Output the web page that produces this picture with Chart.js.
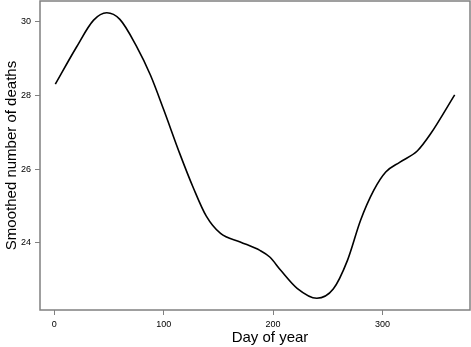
<!DOCTYPE html>
<html>
<head>
<meta charset="utf-8">
<script src="https://cdn.jsdelivr.net/npm/chart.js@4"></script>
<style>
  body { margin: 0; background: #fff; }
  #wrap { width: 471px; height: 347px; }
</style>
</head>
<body>
<div id="wrap"><canvas id="grafico" width="471" height="347"></canvas></div>
<script>
// dados
const dias = [1, 20, 36, 48, 60, 75, 88, 100, 115, 127, 139, 152, 170, 188, 197, 207, 222, 240, 255, 268, 280, 292, 303, 316, 332, 344, 366];
const mortes = [28.31, 29.30, 30.05, 30.25, 30.07, 29.35, 28.55, 27.62, 26.40, 25.50, 24.72, 24.25, 24.02, 23.79, 23.61, 23.25, 22.76, 22.49, 22.74, 23.52, 24.61, 25.42, 25.92, 26.19, 26.50, 26.96, 28.02];
const ticksX = [0, 100, 200, 300];
const ticksY = [24, 26, 28, 30];
const tituloX = 'Day of year';

// moldura em volta da área do gráfico + título do eixo x (um pouco deslocado, como no original)
const moldura = {
    id: 'moldura',
    afterDraw(chart) {
        const { ctx, chartArea: a } = chart;
        ctx.save();
        ctx.strokeStyle = '#808080';
        ctx.lineWidth = 1.5;
        ctx.strokeRect(a.left, a.top, a.right - a.left, a.bottom - a.top);
        ctx.fillStyle = '#000';
        ctx.font = '15px "Liberation Sans"';
        ctx.textAlign = 'center';
        ctx.textBaseline = 'middle';
        ctx.fillText(tituloX, (a.left + a.right) / 2 + 15, 338);
        ctx.restore();
    }
};

const ctx = document.getElementById('grafico').getContext('2d');
const grafico = new Chart(ctx, {
    type: 'line',
    data: {
        datasets: [{
            data: dias.map((d, i) => ({ x: d, y: mortes[i] })),
            borderColor: '#000',
            borderWidth: 1.6,
            pointRadius: 0,
            cubicInterpolationMode: 'monotone',
            fill: false
        }]
    },
    options: {
        responsive: false,
        animation: false,
        layout: { padding: { top: 1, right: 1, left: 0, bottom: 0 } },
        plugins: {
            legend: { display: false },
            tooltip: { enabled: false }
        },
        scales: {
            x: {
                type: 'linear',
                min: -13,
                max: 380,
                afterBuildTicks: s => { s.ticks = ticksX.map(v => ({ value: v })); },
                afterFit: s => { s.height = 37; s.paddingLeft = 0; s.paddingRight = 0; },
                grid: { drawOnChartArea: false, drawTicks: true, tickLength: 5, color: '#808080', lineWidth: 1 },
                border: { display: false },
                ticks: { color: '#000', font: { family: 'Liberation Sans', size: 9 }, padding: 4, maxRotation: 0 }
            },
            y: {
                min: 22.17,
                max: 30.57,
                afterBuildTicks: s => { s.ticks = ticksY.map(v => ({ value: v })); },
                afterFit: s => { s.width = 40; s.paddingTop = 0; s.paddingBottom = 0; },
                grid: { drawOnChartArea: false, drawTicks: true, tickLength: 5, color: '#808080', lineWidth: 1 },
                border: { display: false },
                ticks: { color: '#000', font: { family: 'Liberation Sans', size: 9 }, padding: 4 },
                title: {
                    display: true,
                    text: 'Smoothed number of deaths',
                    color: '#000',
                    font: { family: 'Liberation Sans', size: 15 },
                    padding: { top: 3, bottom: 3 }
                }
            }
        }
    },
    plugins: [moldura]
});
</script>
</body>
</html>
